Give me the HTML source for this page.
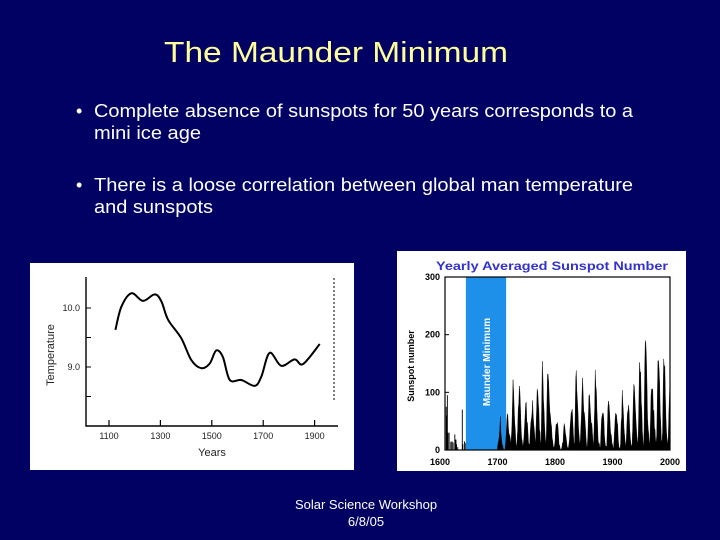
<!DOCTYPE html>
<html><head><meta charset="utf-8"><style>
html,body{margin:0;padding:0;background:#010163;}
svg{display:block;font-family:"Liberation Sans",Arial,sans-serif;}
</style></head><body>
<svg id="slide" width="720" height="540" viewBox="0 0 720 540" xmlns="http://www.w3.org/2000/svg">
<rect width="720" height="540" fill="#010163"/>
<text x="164" y="62" font-size="29" fill="#ffff99" textLength="344" lengthAdjust="spacingAndGlyphs">The Maunder Minimum</text>
<g fill="#ffffff" font-size="18">
<text x="76" y="117">•</text>
<text x="94" y="117" textLength="539" lengthAdjust="spacingAndGlyphs">Complete absence of sunspots for 50 years corresponds to a</text>
<text x="94" y="139" textLength="107" lengthAdjust="spacingAndGlyphs">mini ice age</text>
<text x="76" y="191">•</text>
<text x="94" y="191" textLength="539" lengthAdjust="spacingAndGlyphs">There is a loose correlation between global man temperature</text>
<text x="94" y="213" textLength="119" lengthAdjust="spacingAndGlyphs">and sunspots</text>
</g>

<g id="tempChart">
<rect x="30" y="263" width="324" height="207" fill="#ffffff"/>
</g>

<g id="sunChart">
<rect x="397" y="251" width="289" height="220" fill="#ffffff"/>
</g>

<g fill="#ffffff" font-size="13" text-anchor="middle">
<text x="366" y="509">Solar Science Workshop</text>
<text x="366" y="526">6/8/05</text>
</g>
</svg>
<script>
// ---- Temperature chart data ----
var tempYears = [1125,1148,1187,1232,1278,1304,1330,1381,1420,1459,1492,1517,1543,1570,1615,1667,1693,1725,1770,1822,1855,1920];
var tempValues = [9.63,10.02,10.25,10.12,10.23,10.11,9.80,9.49,9.12,8.98,9.06,9.28,9.17,8.78,8.78,8.68,8.84,9.24,9.02,9.13,9.05,9.39];
var tempXTicks = [1100,1300,1500,1700,1900];
var tempXTickLabels = ["1100","1300","1500","1700","1900"];
var tempYTicks = [10.0,9.0];
var tempYTickLabels = ["10.0","9.0"];

// ---- Sunspot chart data ----
var earlyYears = [1610,1611,1612,1613,1615,1618,1620,1622,1625,1626,1627,1628,1630,1638,1639,1642,1643];
var earlyValues = [75,60,95,30,30,14,15,13,27,18,18,10,5,70,10,15,12];
var sunStartYear = 1700;
var sunValues = [5,11,16,23,36,58,29,20,10,8,3,
0,0,2,11,27,47,63,60,39,28,
26,22,11,21,40,78,122,103,73,47,
35,11,5,16,34,70,81,111,101,73,
40,20,16,5,11,22,40,60,81,83,
48,48,31,12,10,10,32,48,54,63,
86,61,45,36,21,11,38,70,106,101,
82,67,35,31,7,20,92,154,126,85,
68,39,23,10,24,83,132,131,118,90,
67,60,47,41,21,16,6,4,7,15,
34,45,43,48,42,28,10,8,3,0,
1,5,12,14,35,46,41,30,24,16,
7,4,2,9,17,36,50,64,67,71,
48,28,9,13,57,122,138,103,86,65,
37,24,11,15,40,62,99,125,96,67,
65,54,39,21,7,4,23,55,94,96,
77,59,44,47,31,16,7,38,74,139,
111,102,66,45,17,11,12,3,6,32,
54,60,64,64,52,25,13,7,6,7,
36,73,85,78,64,42,26,27,12,10,
3,5,24,42,64,54,62,49,44,19,
6,4,1,10,47,57,104,81,64,38,
26,14,6,17,44,64,69,78,65,36,
21,11,6,9,36,80,114,110,89,68,
48,31,16,10,33,93,152,136,135,84,
69,32,14,4,38,142,190,185,159,112,
54,38,28,10,15,47,94,106,106,105,
67,69,38,35,16,13,28,93,155,155,
140,116,67,46,18,13,29,100,158,143,
146,94,55,30,18,9,22,64,93,120];
var sunXTicks = [1600,1700,1800,1900,2000];
var sunXTickLabels = ["1600","1700","1800","1900","2000"];
var sunYTicks = [0,100,200,300];
var sunYTickLabels = ["0","100","200","300"];
var maunderStart = 1645, maunderEnd = 1715;

var NS = "http://www.w3.org/2000/svg";
function mk(parent, tag, attrs, txt){
  var e = document.createElementNS(NS, tag);
  for (var k in attrs) e.setAttribute(k, attrs[k]);
  if (txt !== undefined) e.textContent = txt;
  parent.appendChild(e);
  return e;
}

// ---------- Temperature chart ----------
(function(){
  var g = document.getElementById('tempChart');
  function tx(y){ return 109 + (y - 1100) * 0.257; }
  function ty(t){ return 308 + (10 - t) * 59; }
  var ax = mk(g,'path',{d:'M86 277 L86 426 L240 426 M202 426 L338 426',stroke:'#000','stroke-width':1.4,fill:'none'});
  
  
  var r = mk(g,'path',{d:'M334 278 L334 400',stroke:'#000','stroke-width':1,'stroke-dasharray':'2 2',fill:'none'});
  
  
  tempXTicks.forEach(function(v,i){
    var x = tx(v);
    var t = mk(g,'line',{x1:x,y1:420,x2:x,y2:426,stroke:'#000','stroke-width':1.2});
    
    
    var l = mk(g,'text',{x:x,y:439,'font-size':9,'text-anchor':'middle',fill:'#222'},tempXTickLabels[i]);
    
    
  });
  tempYTicks.forEach(function(v,i){
    var y = ty(v);
    var t = mk(g,'line',{x1:86,y1:y,x2:91,y2:y,stroke:'#000','stroke-width':1});
    
    
    var l = mk(g,'text',{x:80,y:y+3,'font-size':9,'text-anchor':'end',fill:'#222'},tempYTickLabels[i]);
    
    
  });
  [9.5,8.5].forEach(function(v){
    var t = mk(g,'line',{x1:86,y1:ty(v),x2:91,y2:ty(v),stroke:'#000','stroke-width':1});
    
    
  });
  var yl = mk(g,'text',{x:0,y:0,'font-size':11,'text-anchor':'middle',fill:'#222',transform:'translate(54 355) rotate(-90)'},'Temperature');
  
  
  var xl = mk(g,'text',{x:212,y:456,'font-size':11,'text-anchor':'middle',fill:'#222'},'Years');
  
  
  var pts = tempYears.map(function(y,i){ return [tx(y), ty(tempValues[i])]; });
  var d = 'M' + pts[0][0] + ' ' + pts[0][1];
  for (var i = 0; i < pts.length - 1; i++){
    var p0 = pts[Math.max(0,i-1)], p1 = pts[i], p2 = pts[i+1], p3 = pts[Math.min(pts.length-1,i+2)];
    var c1x = p1[0] + (p2[0]-p0[0])/6, c1y = p1[1] + (p2[1]-p0[1])/6;
    var c2x = p2[0] - (p3[0]-p1[0])/6, c2y = p2[1] - (p3[1]-p1[1])/6;
    d += ' C' + c1x + ' ' + c1y + ' ' + c2x + ' ' + c2y + ' ' + p2[0] + ' ' + p2[1];
  }
  var line = mk(g,'path',{d:d,stroke:'#000','stroke-width':2,fill:'none'});
  
  
})();

// ---------- Sunspot chart ----------
(function(){
  var g = document.getElementById('sunChart');
  var X0 = 440, X1 = 670, Y0 = 450, Y1 = 277;
  function sx(y){ return X0 + (y - 1600) * (X1 - X0) / 400; }
  function sy(v){ return Y0 - v * (Y0 - Y1) / 300; }
  var FL = 445;
  var band = mk(g,'rect',{x:sx(maunderStart),y:Y1,width:sx(maunderEnd)-sx(maunderStart),height:Y0-Y1,fill:'#1e90ea'});
  
  
  var bl = mk(g,'text',{x:0,y:0,'font-size':10,'font-weight':'bold','text-anchor':'middle',fill:'#ffffff',transform:'translate('+((sx(maunderStart)+sx(maunderEnd))/2+4)+' 362) rotate(-90)'},'Maunder Minimum');
  
  
  var frame = mk(g,'rect',{x:FL,y:Y1,width:X1-FL,height:Y0-Y1,fill:'none',stroke:'#000','stroke-width':1.2});
  
  
  earlyYears.forEach(function(y,i){
    var b = mk(g,'rect',{x:sx(y),y:sy(earlyValues[i]),width:0.9,height:Y0-sy(earlyValues[i]),fill:'#000'});
    
    
  });
  var d = 'M' + sx(sunStartYear) + ' ' + Y0;
  sunValues.forEach(function(v,i){ d += ' L' + sx(sunStartYear + i) + ' ' + sy(v); });
  d += ' L' + sx(sunStartYear + sunValues.length - 1) + ' ' + Y0 + ' Z';
  var area = mk(g,'path',{d:d,fill:'#000',stroke:'#000','stroke-width':0.4});
  
  
  sunXTicks.forEach(function(v,i){
    var l = mk(g,'text',{x:sx(v),y:465,'font-size':9,'font-weight':'bold','text-anchor':'middle',fill:'#000'},sunXTickLabels[i]);
    
    
  });
  sunYTicks.forEach(function(v,i){
    var t = mk(g,'line',{x1:FL,y1:sy(v),x2:FL+4,y2:sy(v),stroke:'#000','stroke-width':1});
    
    
    var l = mk(g,'text',{x:FL-5,y:sy(v)+3,'font-size':9,'font-weight':'bold','text-anchor':'end',fill:'#000'},sunYTickLabels[i]);
    
    
  });
  var yt = mk(g,'text',{x:0,y:0,'font-size':9,'font-weight':'bold','text-anchor':'middle',fill:'#000',transform:'translate(414 366) rotate(-90)'},'Sunspot number');
  
  
  var tt = mk(g,'text',{x:436,y:270,'font-size':12,'font-weight':'bold',fill:'#3333cc',textLength:232,lengthAdjust:'spacingAndGlyphs'},'Yearly Averaged Sunspot Number');
  
  
})();
</script>
</body></html>
